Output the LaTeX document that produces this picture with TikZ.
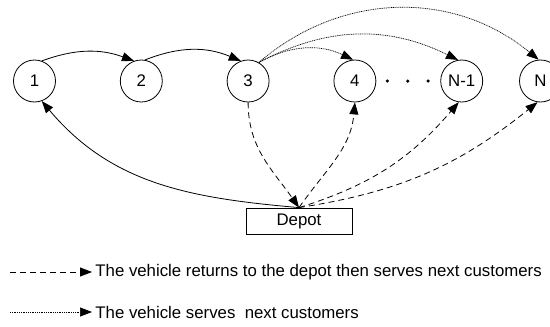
\documentclass[tikz,border=0pt]{standalone}
\usepackage{fontspec}
\setmainfont{Liberation Sans}
\usetikzlibrary{arrows.meta,positioning}

\begin{document}
\begin{tikzpicture}[x=1pt,y=-1pt,line width=0.8pt,>={Triangle[length=12pt,width=9pt]},
    node distance=64pt,font=\fontsize{16.8}{19}\selectfont,
    customer/.style={circle,draw,minimum size=42pt,inner sep=0pt},
    depot/.style={draw,minimum width=106pt,minimum height=26pt,inner sep=0pt},
    dot/.style={circle,fill,minimum size=3.5pt,inner sep=0pt},
    direct/.style={->,dash pattern=on 1pt off 0.8pt,line width=0.7pt},
    back/.style={->,dash pattern=on 6pt off 4pt}]

\useasboundingbox (0,0) rectangle (550,327);

\node [customer] (c1) at (34.5,81) {1};
\node [customer] (c2) [right=of c1] {2};
\node [customer] (c3) [right=of c2] {3};
\node [customer] (c4) [right=of c3] {4};
\node [dot] (d1) [right=9pt of c4] {};
\node [dot] (d2) [right=16pt of d1] {};
\node [dot] (d3) [right=16pt of d2] {};
\node [customer] (cn1) [right=of c4] {N-1};
\node [customer] (cn) [right=36pt of cn1] {N};

\node [depot] (depot) at (299,221) {Depot};

% route
\draw [->] (c1.70) to [bend left=20] (c2.110);
\draw [->] (c2.80) to [bend left=22] (c3.110);
\draw [->] (depot.north) to [out=175,in=-50] (c1.-70);

% serves next customers
\draw [direct] (c3.60) to [bend left=27] (c4.95);
\draw [direct] (c3.60) to [bend left=27] (cn1.100);
\draw [direct] (c3.60) to [bend left=40] (cn.95);

% back to the depot
\draw [back] (c3.south) to [out=-90,in=125] (depot.north);
\draw [back] (depot.north) to [out=55,in=-95] (c4.south);
\draw [back] (depot.north) to [bend right=16] (cn1.-98);
\draw [back] (depot.north) to [bend right=15] (cn.-98);

% legend
\coordinate (l1) at (10,272);
\node (t1) [anchor=west,inner sep=3pt] at (92,272) {The vehicle returns to the depot then serves next customers};
\draw [back] (l1) -- (t1);

\coordinate (l2) at (10,312);
\node (t2) [anchor=west,inner sep=3pt] at (92,312) {The vehicle serves\ \ next customers};
\draw [direct] (l2) -- (t2);

\end{tikzpicture}
\end{document}
